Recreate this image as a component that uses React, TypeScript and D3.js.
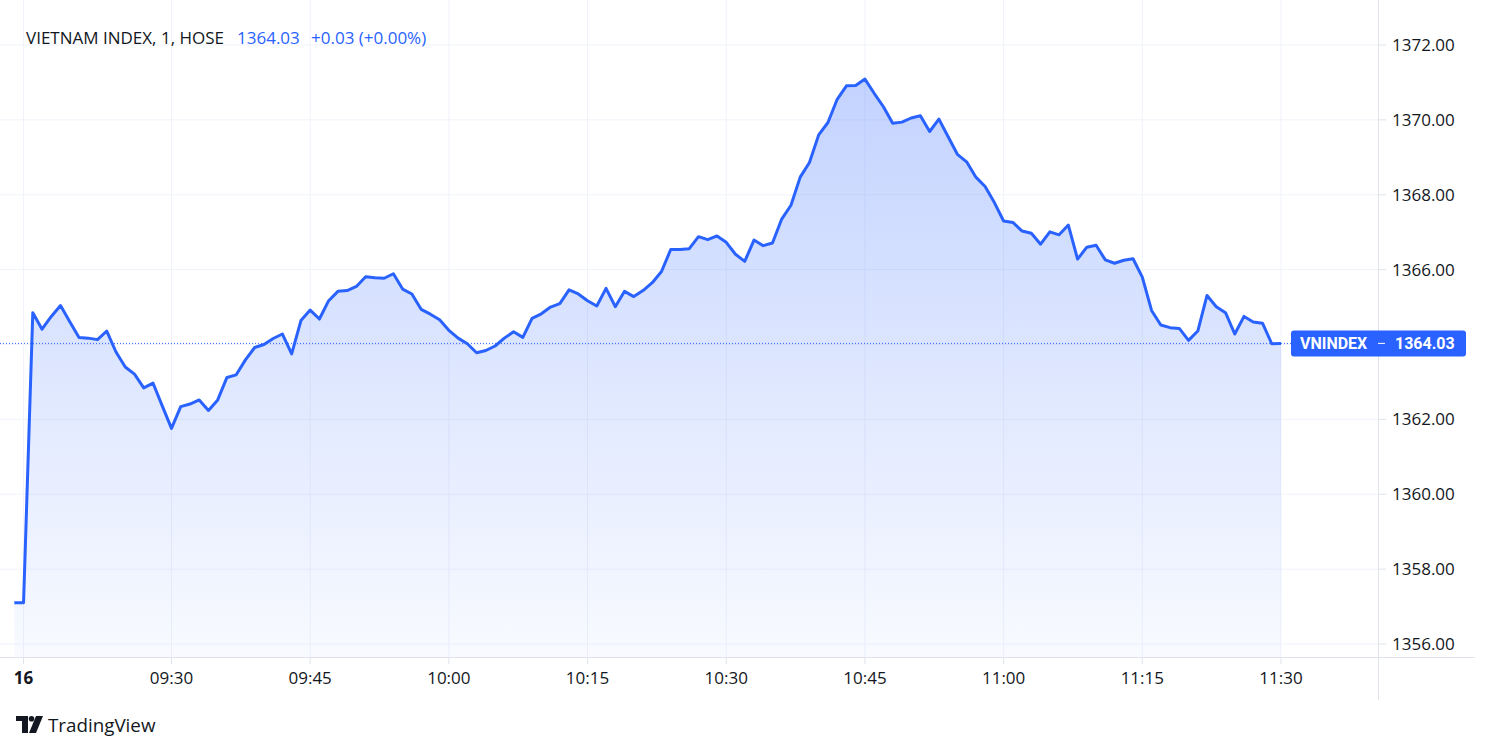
import React from "react";
import * as d3 from "d3";

const WIDTH = 1489;
const HEIGHT = 752;

const legendTitle = "VIETNAM INDEX, 1, HOSE";
const seriesTitle = "VNINDEX";
const lastPrice = "1364.03";
const lastChange = "+0.03 (+0.00%)";

// previous session close + the 09:00 bar of the 16th
const openBars = [1357.1, 1357.1];
// 1-minute closes, 09:15 - 10:00
const closesMorning = [
  1364.85, 1364.41, 1364.75, 1365.04, 1364.61, 1364.19, 1364.17, 1364.13, 1364.36, 1363.8,
  1363.4, 1363.21, 1362.84, 1362.97, 1362.36, 1361.76, 1362.34, 1362.41, 1362.52, 1362.24,
  1362.52, 1363.12, 1363.19, 1363.59, 1363.92, 1364.0, 1364.16, 1364.28, 1363.75, 1364.64,
  1364.92, 1364.68, 1365.17, 1365.42, 1365.44, 1365.55, 1365.81, 1365.78, 1365.77, 1365.89,
  1365.48, 1365.35, 1364.94, 1364.81, 1364.66, 1364.38,
];
// 10:01 - 10:45
const closesMid = [
  1364.17, 1364.02, 1363.78, 1363.84, 1363.96, 1364.17, 1364.34, 1364.19, 1364.7, 1364.82,
  1365.0, 1365.09, 1365.46, 1365.35, 1365.17, 1365.03, 1365.5, 1365.01, 1365.42, 1365.28,
  1365.44, 1365.65, 1365.95, 1366.54, 1366.54, 1366.56, 1366.88, 1366.8, 1366.9, 1366.73,
  1366.41, 1366.22, 1366.79, 1366.64, 1366.71, 1367.35, 1367.72, 1368.47, 1368.86, 1369.6,
  1369.93, 1370.55, 1370.91, 1370.92, 1371.09,
];
// 10:46 - 11:30
const closesLate = [
  1370.71, 1370.35, 1369.91, 1369.94, 1370.05, 1370.11, 1369.69, 1370.02,
  1369.55, 1369.08, 1368.88, 1368.47, 1368.22, 1367.79, 1367.3, 1367.26, 1367.03, 1366.97,
  1366.68, 1367.01, 1366.93, 1367.19, 1366.28, 1366.6, 1366.65, 1366.26, 1366.17, 1366.25,
  1366.29, 1365.8, 1364.91, 1364.52, 1364.45, 1364.43, 1364.11, 1364.36, 1365.31, 1365.01,
  1364.85, 1364.28, 1364.75, 1364.6, 1364.57, 1364.02, 1364.03,
];

const priceTicks = [1356, 1358, 1360, 1362, 1364, 1366, 1368, 1370, 1372];
const timeTicks = ["16", "09:30", "09:45", "10:00", "10:15", "10:30", "10:45", "11:00", "11:15", "11:30"];

const closes = [...openBars, ...closesMorning, ...closesMid, ...closesLate];

// bar labels: previous day, day start, then every minute from 09:15
const barTimes: string[] = ["15", "16"];
for (let k = 0; barTimes.length < closes.length; k++) {
  const m = 9 * 60 + 15 + k;
  barTimes.push(`${String(Math.floor(m / 60)).padStart(2, "0")}:${String(m % 60).padStart(2, "0")}`);
}

const BLUE = "#2962FF";
const TEXT = "#131722";
const GRID = "#F0F3FA";
const BORDER = "#E0E3EB";
const FONT = "'Open Sans', Roboto, sans-serif";

export default function App() {
  const plotRight = 1378;
  const plotBottom = 657;

  const x = d3.scaleLinear().domain([0, closes.length - 1]).range([14.3, 1281]);
  const y = d3.scaleLinear().domain([1356, 1372]).range([644, 45]);

  const line = d3
    .line<number>()
    .x((_, i) => x(i))
    .y((d) => y(d));
  const area = d3
    .area<number>()
    .x((_, i) => x(i))
    .y0(plotBottom)
    .y1((d) => y(d));

  const last = closes[closes.length - 1];
  const lastY = y(last);
  const topY = y(d3.max(closes) as number);

  const tickX = timeTicks.map((t) => x(barTimes.indexOf(t)));
  // the last-price label covers any axis label that sits under it
  const visiblePriceTicks = priceTicks.filter((p) => Math.abs(y(p) - lastY) > 20);

  return (
    <svg
      width={WIDTH}
      height={HEIGHT}
      style={{ position: "absolute", left: 0, top: 0, background: "#fff" }}
      fontFamily={FONT}
    >
      <defs>
        <linearGradient id="areaFill" gradientUnits="userSpaceOnUse" x1={0} x2={0} y1={topY} y2={plotBottom}>
          <stop offset="0%" stopColor={BLUE} stopOpacity={0.28} />
          <stop offset="100%" stopColor={BLUE} stopOpacity={0.03} />
        </linearGradient>
        <clipPath id="plotClip">
          <rect x={0} y={0} width={plotRight} height={plotBottom} />
        </clipPath>
      </defs>

      {/* grid */}
      {priceTicks.map((p) => (
        <line key={p} x1={0} x2={plotRight} y1={y(p)} y2={y(p)} stroke={GRID} />
      ))}
      {tickX.map((tx, i) => (
        <line key={i} x1={tx} x2={tx} y1={0} y2={plotBottom} stroke={GRID} />
      ))}

      <g clipPath="url(#plotClip)">
        <path d={area(closes) ?? ""} fill="url(#areaFill)" />
        <line
          x1={0}
          x2={plotRight}
          y1={lastY}
          y2={lastY}
          stroke={BLUE}
          strokeWidth={1}
          strokeDasharray="1 2"
        />
        <path d={line(closes) ?? ""} fill="none" stroke={BLUE} strokeWidth={3} strokeLinejoin="round" />
      </g>

      {/* axes borders */}
      <line x1={0} x2={1475} y1={plotBottom + 0.5} y2={plotBottom + 0.5} stroke={BORDER} />
      <line x1={plotRight + 0.5} x2={plotRight + 0.5} y1={0} y2={700} stroke={BORDER} />

      {/* price axis */}
      {visiblePriceTicks.map((p) => (
        <g key={p}>
          <line x1={plotRight} x2={plotRight + 8} y1={y(p)} y2={y(p)} stroke={BORDER} />
          <text x={1392} y={y(p)} dy="0.36em" fontSize={17} fill={TEXT}>
            {p.toFixed(2)}
          </text>
        </g>
      ))}

      {/* time axis */}
      {timeTicks.map((t, i) => (
        <g key={t}>
          <line x1={tickX[i]} x2={tickX[i]} y1={plotBottom} y2={plotBottom + 7} stroke={BORDER} />
          <text
            x={tickX[i]}
            y={684}
            fontSize={17}
            textAnchor="middle"
            fill={TEXT}
            fontWeight={t === "16" ? 700 : 400}
          >
            {t}
          </text>
        </g>
      ))}

      {/* last price label */}
      <rect x={1291} y={lastY - 13} width={175} height={26} rx={3} fill={BLUE} />
      <g fontFamily="Roboto, sans-serif" fontSize={16} fontWeight={700} fill="#fff">
        <text x={1300} y={lastY} dy="0.36em">
          {seriesTitle}
        </text>
        <text x={1395} y={lastY} dy="0.36em">
          {lastPrice}
        </text>
      </g>
      <line x1={1378} x2={1385} y1={lastY} y2={lastY} stroke="#fff" strokeWidth={1} />

      {/* legend */}
      <text y={38} dy="0.36em" fontSize={17} fill={TEXT}>
        <tspan x={26}>{legendTitle}</tspan>
        <tspan x={237} fill={BLUE}>{lastPrice}</tspan>
        <tspan x={311} fill={BLUE}>{lastChange}</tspan>
      </text>

      {/* TradingView logo */}
      <g fill={TEXT}>
        <path d="M16 716 H28 V733 H22 V721 H16 Z" />
        <circle cx={31.5} cy={718.8} r={2.8} />
        <path d="M36 716 H43 L36 733 H29 Z" />
        <text x={48} y={732} fontSize={18.8}>
          TradingView
        </text>
      </g>
    </svg>
  );
}
